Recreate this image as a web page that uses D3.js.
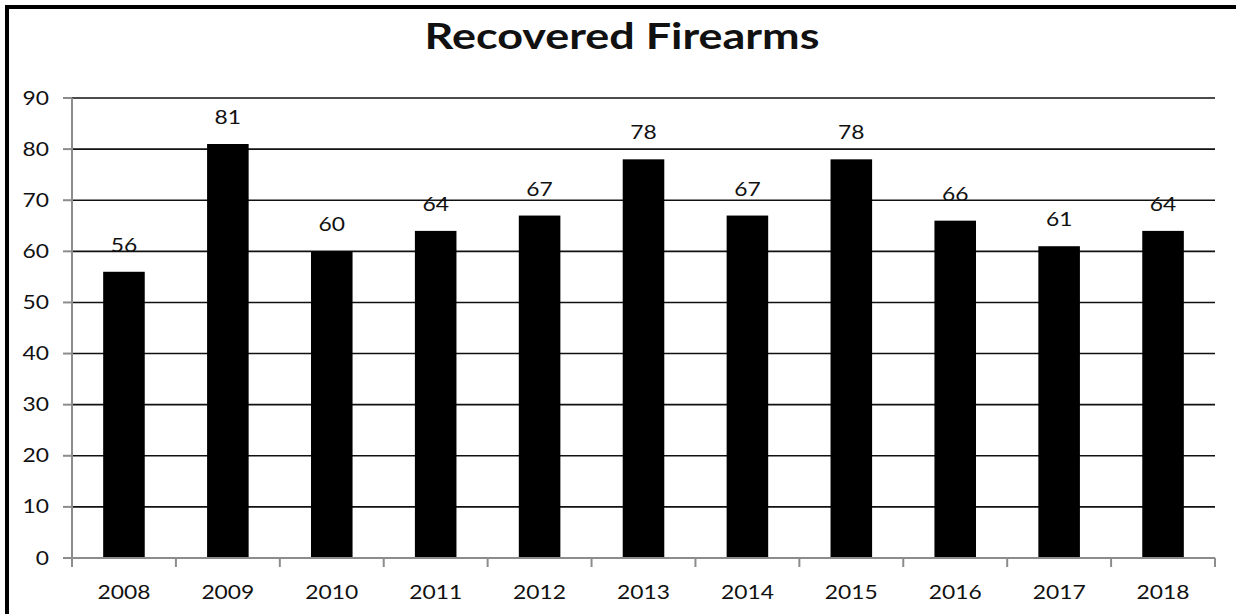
<!DOCTYPE html>
<html>
<head>
<meta charset="utf-8">
<script src="https://cdn.jsdelivr.net/npm/d3@7"></script>
<style>
  html, body { margin: 0; padding: 0; background: #fff; }
  svg { display: block; }
  text { font-family: Lato, "Open Sans", "DejaVu Sans", sans-serif; fill: #111; }
</style>
</head>
<body>
<svg id="chart" width="1236" height="614"></svg>
<script>
// Recovered firearms per year
const years = ["2008", "2009", "2010", "2011", "2012", "2013", "2014", "2015", "2016", "2017", "2018"];
const recovered = [56, 81, 60, 64, 67, 78, 67, 78, 66, 61, 64];
const yTicks = [0, 10, 20, 30, 40, 50, 60, 70, 80, 90];
const titleText = "Recovered Firearms";

const W = 1236, H = 614;
const plot = { left: 72, right: 1215, top: 98, bottom: 558 };

const svg = d3.select("#chart");

// frame: thick rule along the top and left edges
svg.append("rect")
  .attr("x", 7).attr("y", 7)
  .attr("width", W + 40).attr("height", H + 40)
  .attr("fill", "#fff").attr("stroke", "#000").attr("stroke-width", 4);

const x = d3.scaleBand()
  .domain(years)
  .range([plot.left, plot.right])
  .paddingInner(0.6)
  .paddingOuter(0.3);

const y = d3.scaleLinear()
  .domain([0, 90])
  .range([plot.bottom, plot.top]);

// text is drawn horizontally widened; the factor is fitted per text style
function widthFactor(size, weight, sample, targetWidth) {
  const probe = svg.append("text").style("font-size", size).style("font-weight", weight).text(sample);
  const w = probe.node().getComputedTextLength();
  probe.remove();
  return targetWidth / w;
}

// gridlines (above zero)
svg.append("g")
  .selectAll("line")
  .data(yTicks.filter(d => d > 0))
  .join("line")
  .attr("x1", plot.left).attr("x2", plot.right)
  .attr("y1", d => y(d)).attr("y2", d => y(d))
  .attr("stroke", "#111").attr("stroke-width", 1.6);

// bars
svg.append("g")
  .selectAll("rect")
  .data(recovered)
  .join("rect")
  .attr("x", (d, i) => x(years[i]))
  .attr("width", x.bandwidth())
  .attr("y", d => y(d))
  .attr("height", d => y(0) - y(d))
  .attr("fill", "#000");

// axes
const axisColor = "#8c8c8c";
const axes = svg.append("g").attr("stroke", axisColor).attr("stroke-width", 2);
axes.append("line")
  .attr("x1", plot.left).attr("x2", plot.left)
  .attr("y1", y(90)).attr("y2", y(0));
axes.append("line")
  .attr("x1", plot.left).attr("x2", plot.right)
  .attr("y1", y(0)).attr("y2", y(0));
axes.selectAll(".ytick")
  .data(yTicks)
  .join("line")
  .attr("class", "ytick")
  .attr("x1", plot.left - 9).attr("x2", plot.left)
  .attr("y1", d => y(d)).attr("y2", d => y(d));
axes.selectAll(".xtick")
  .data(d3.range(years.length + 1))
  .join("line")
  .attr("class", "xtick")
  .attr("x1", i => plot.left + i * x.step()).attr("x2", i => plot.left + i * x.step())
  .attr("y1", y(0)).attr("y2", y(0) + 9);

// label styles
const labelSize = "19px";
const sx = widthFactor(labelSize, "normal", "2008", 53);

// y tick labels
svg.append("g")
  .selectAll("text")
  .data(yTicks)
  .join("text")
  .attr("transform", d => `translate(${plot.left - 23},${y(d) + 6.5}) scale(${sx},1)`)
  .attr("text-anchor", "end")
  .style("font-size", labelSize)
  .text(d => d);

// x category labels
svg.append("g")
  .selectAll("text")
  .data(years)
  .join("text")
  .attr("transform", d => `translate(${x(d) + x.bandwidth() / 2},${y(0) + 41}) scale(${sx},1)`)
  .attr("text-anchor", "middle")
  .style("font-size", labelSize)
  .text(d => d);

// value labels above bars
svg.append("g")
  .selectAll("text")
  .data(recovered)
  .join("text")
  .attr("transform", (d, i) => `translate(${x(years[i]) + x.bandwidth() / 2},${y(d) - 20}) scale(${sx},1)`)
  .attr("text-anchor", "middle")
  .style("font-size", labelSize)
  .text(d => d);

// title
const titleSize = "37px";
const tsx = widthFactor(titleSize, "bold", titleText, 395);
svg.append("text")
  .attr("transform", `translate(622,49) scale(${tsx},1)`)
  .attr("text-anchor", "middle")
  .style("font-size", titleSize)
  .style("font-weight", "bold")
  .text(titleText);
</script>
</body>
</html>
